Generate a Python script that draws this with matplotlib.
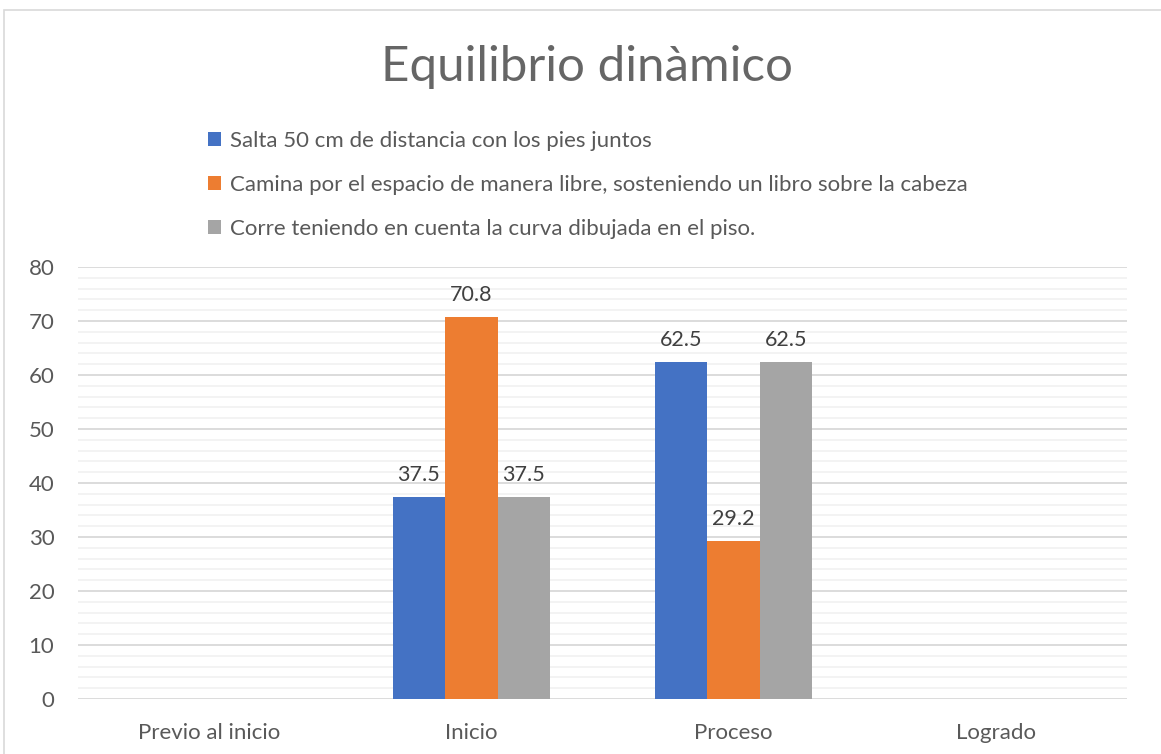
import matplotlib.pyplot as plt
import numpy as np
from matplotlib.patches import Rectangle
from matplotlib.ticker import MultipleLocator

plt.rcParams['font.family'] = ['Lato', 'DejaVu Sans']

# datos
categorias = ['Previo al inicio', 'Inicio', 'Proceso', 'Logrado']
salta = [0, 37.5, 62.5, 0]
camina = [0, 70.8, 29.2, 0]
corre = [0, 37.5, 62.5, 0]
series = [
    ('Salta 50 cm de distancia con los pies juntos', salta, '#4472C4'),
    ('Camina por el espacio de manera libre, sosteniendo un libro sobre la cabeza', camina, '#ED7D31'),
    ('Corre teniendo en cuenta la curva dibujada en el piso.', corre, '#A5A5A5'),
]

W, H = 1161, 754
fig = plt.figure(figsize=(W / 100, H / 100), dpi=100)
ax = fig.add_axes([78 / W, 1 - 699 / H, (1127 - 78) / W, (699 - 267) / H])

# marco del grafico
fig.patches.append(Rectangle((4 / W, -0.1), 1.2, 1 - 10 / H + 0.1, transform=fig.transFigure,
                             fill=False, edgecolor='#D9D9D9', linewidth=1.2))

x = np.arange(len(categorias))
ancho = 0.2
handles = []
for i, (nombre, vals, color) in enumerate(series):
    pos = x + (i - 1) * ancho
    b = ax.bar(pos, vals, width=ancho, color=color, zorder=3)
    handles.append(b)
    for px, v in zip(pos, vals):
        if v > 0:
            ax.text(px, v + 2.2, f'{v:.1f}', ha='center', va='bottom',
                    fontsize=15.5, color='#404040')

ax.set_xlim(-0.5, 3.5)
ax.set_ylim(0, 80)
ax.yaxis.set_major_locator(MultipleLocator(10))
ax.yaxis.set_minor_locator(MultipleLocator(2))
ax.grid(which='major', axis='y', color='#D9D9D9', linewidth=1.3, zorder=0)
ax.grid(which='minor', axis='y', color='#F2F2F2', linewidth=1.3, zorder=0)
ax.set_xticks(x)
ax.set_xticklabels(categorias)
ax.tick_params(axis='both', which='both', length=0, labelsize=16, colors='#595959')
ax.tick_params(axis='x', pad=17)
ax.tick_params(axis='y', pad=17)
for s in ax.spines.values():
    s.set_visible(False)

fig.text(587 / W, 1 - 67 / H, 'Equilibrio dinàmico', ha='center', va='center',
         fontsize=35.5, fontweight='normal', color='#666666')

fig.legend([h[0] for h in handles], [s[0] for s in series],
           loc='upper left', bbox_to_anchor=(188 / W, 1 - 111 / H),
           frameon=False, fontsize=16, labelcolor='#595959',
           handlelength=0.6, handleheight=0.6, handletextpad=0.4,
           labelspacing=1.08)

fig.savefig('out.png', dpi=100)
